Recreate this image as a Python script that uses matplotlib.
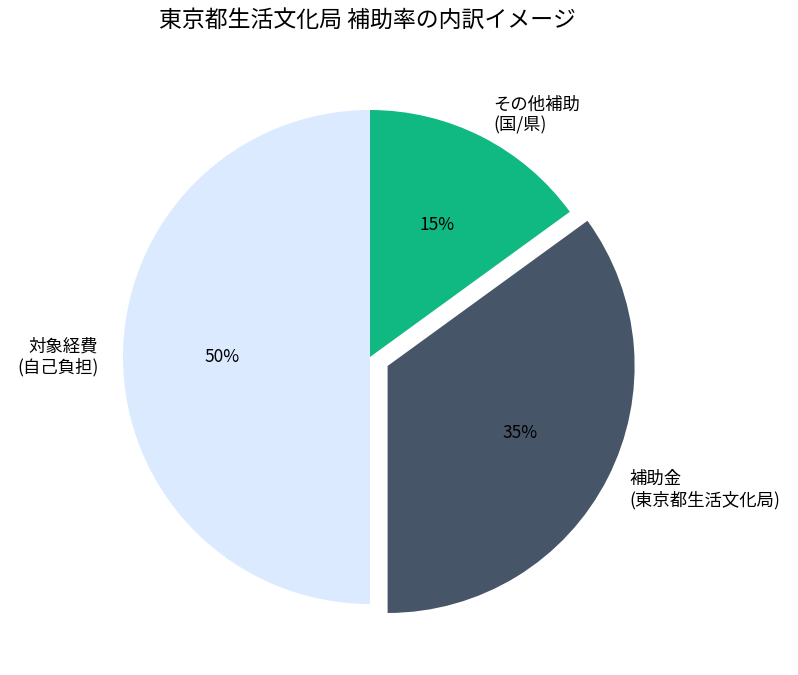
import matplotlib
matplotlib.use("Agg")
import matplotlib.pyplot as plt

plt.rcParams['font.family'] = ['Noto Sans CJK JP', 'DejaVu Sans']

labels = ['対象経費\n(自己負担)', '補助金\n(東京都生活文化局)', 'その他補助\n(国/県)']
values = [50, 35, 15]
colors = ['#dbeafe', '#475569', '#10b981']
explode = [0, 0.08, 0]

W, H = 798, 675
fig = plt.figure(figsize=(W/100, H/100), dpi=100)
cx, cy, r = 370, 357, 247
half = 300
ax = fig.add_axes([(cx-half)/W, (H-cy-half)/H, 2*half/W, 2*half/H])
ax.pie(values, labels=labels, colors=colors, explode=explode, startangle=90,
       autopct='%1.0f%%', textprops={'fontsize': 12.5})
lim = half / r
ax.set_xlim(-lim, lim)
ax.set_ylim(-lim, lim)
ax.set_aspect('equal')
ax.axis('off')
fig.text(367/W, 1 - 21/H, '東京都生活文化局 補助率の内訳イメージ', fontsize=16.5,
         ha='center', va='center')
fig.savefig('out.png', dpi=100)
